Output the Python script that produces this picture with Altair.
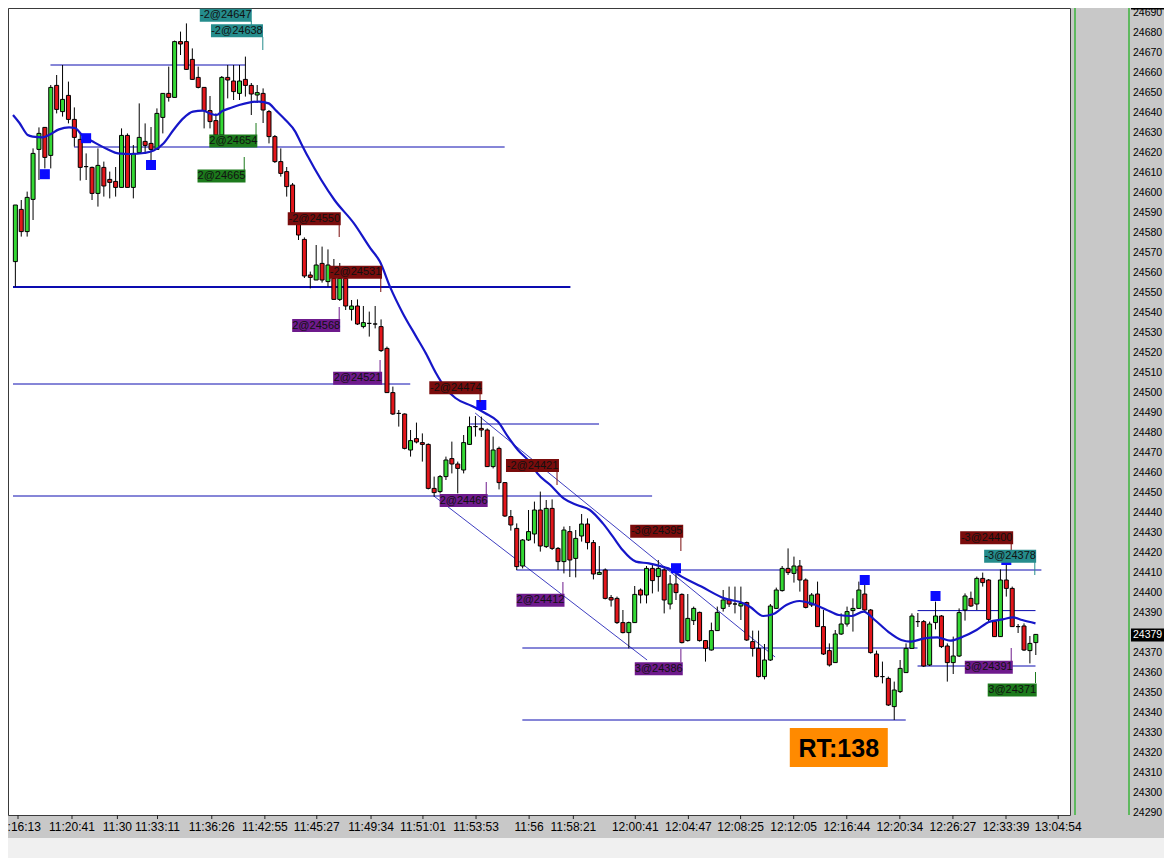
import altair as alt
import pandas as pd

FONT = "Liberation Sans"

# ---------------- candle data (bar index 0..173) ----------------
opens = [
    24565.7, 24591.8, 24580.7, 24596.8, 24621.8, 24632.8, 24618.8, 24653.8, 24640.7, 24648.8,
    24636.8, 24626.8, 24613.2, 24612.8, 24599.8, 24612.8, 24606.8, 24605.8, 24602.8, 24628.8,
    24602.8, 24620.2, 24625.8, 24624.8, 24621.8, 24637.8, 24649.8, 24647.8, 24675.7, 24675.7,
    24666.8, 24657.8, 24652.8, 24641.2, 24636.2, 24629.0, 24657.8, 24656.0, 24649.8, 24656.8,
    24653.8, 24649.0, 24649.8, 24640.7, 24628.2, 24615.7, 24610.7, 24604.0, 24589.8, 24576.8,
    24559.0, 24556.5, 24564.8, 24555.7, 24557.3, 24546.8, 24557.3, 24541.8, 24543.5, 24533.2,
    24534.8, 24534.5, 24533.2, 24522.3, 24500.2, 24489.8, 24489.5, 24471.5, 24477.2, 24475.2,
    24474.3, 24452.3, 24450.7, 24458.2, 24467.2, 24464.5, 24461.5, 24474.3, 24483.2, 24482.3,
    24481.5, 24463.2, 24472.3, 24455.2, 24438.2, 24432.3, 24413.5, 24426.5, 24429.5, 24441.5,
    24423.2, 24442.3, 24422.3, 24415.7, 24430.7, 24417.3, 24428.5, 24434.5, 24425.2, 24409.3,
    24411.5, 24397.7, 24397.3, 24385.2, 24380.2, 24385.2, 24401.5, 24399.0, 24412.3, 24408.2,
    24411.5, 24394.5, 24404.5, 24399.3, 24376.2, 24386.2, 24390.3, 24376.2, 24371.5, 24381.2,
    24392.3, 24396.5, 24394.5, 24393.5, 24395.2, 24375.7, 24372.3, 24358.2, 24366.5, 24392.3,
    24401.2, 24412.3, 24409.8, 24413.5, 24406.5, 24394.0, 24399.5, 24383.2, 24371.2, 24365.2,
    24379.5, 24384.5, 24391.2, 24392.3, 24399.5, 24391.5, 24369.5, 24358.2, 24357.3, 24343.2,
    24350.7, 24360.2, 24372.3, 24385.7, 24385.7, 24364.0, 24385.2, 24388.5, 24373.5, 24365.2,
    24368.5, 24391.5, 24397.3, 24394.5, 24407.3, 24406.5, 24385.7, 24378.2, 24406.5, 24402.3,
    24383.2, 24383.5, 24371.2, 24375.2,
]
highs = [
    24594.0, 24596.5, 24600.7, 24622.3, 24632.8, 24633.0, 24654.0, 24659.0, 24664.0, 24655.7,
    24642.8, 24629.8, 24619.8, 24613.2, 24622.3, 24615.7, 24610.7, 24613.0, 24632.3, 24629.8,
    24624.0, 24644.8, 24634.8, 24633.0, 24642.3, 24650.0, 24663.2, 24676.2, 24680.7, 24684.8,
    24672.3, 24663.2, 24653.0, 24648.5, 24639.8, 24658.5, 24664.0, 24664.0, 24664.0, 24668.2,
    24655.0, 24654.0, 24652.3, 24641.5, 24629.0, 24622.3, 24613.0, 24605.0, 24590.0, 24577.8,
    24560.7, 24574.0, 24573.2, 24571.8, 24567.0, 24565.0, 24558.0, 24546.5, 24546.8, 24543.5,
    24540.7, 24543.5, 24536.8, 24523.2, 24503.2, 24491.5, 24489.8, 24481.5, 24485.2, 24479.8,
    24474.8, 24458.2, 24459.0, 24468.2, 24475.7, 24465.7, 24479.0, 24488.2, 24488.5, 24488.2,
    24482.3, 24478.2, 24473.2, 24455.5, 24441.5, 24434.8, 24427.0, 24441.5, 24445.7, 24450.7,
    24446.5, 24446.8, 24423.0, 24433.2, 24433.5, 24431.5, 24439.5, 24437.3, 24426.5, 24423.5,
    24412.3, 24399.0, 24398.2, 24391.5, 24385.7, 24403.5, 24402.3, 24413.5, 24414.8, 24416.5,
    24413.5, 24409.0, 24409.8, 24399.8, 24399.5, 24393.2, 24390.7, 24376.5, 24385.2, 24393.2,
    24401.5, 24403.2, 24403.2, 24403.2, 24395.7, 24381.2, 24381.2, 24374.5, 24394.5, 24402.7,
    24413.5, 24422.3, 24418.2, 24416.5, 24407.3, 24400.0, 24405.7, 24391.5, 24374.8, 24381.5,
    24389.8, 24393.2, 24397.3, 24405.7, 24404.0, 24392.0, 24371.2, 24365.7, 24358.2, 24355.7,
    24366.5, 24374.8, 24389.8, 24390.0, 24386.5, 24385.7, 24395.7, 24389.0, 24374.8, 24378.2,
    24392.3, 24399.8, 24400.7, 24408.2, 24410.2, 24407.0, 24386.5, 24411.8, 24414.8, 24403.2,
    24384.5, 24384.8, 24378.5, 24379.5,
]
lows = [
    24553.2, 24578.2, 24578.2, 24586.5, 24606.5, 24612.3, 24612.3, 24639.8, 24638.2, 24634.8,
    24623.2, 24606.2, 24606.5, 24596.5, 24593.2, 24598.2, 24597.3, 24598.2, 24602.8, 24602.8,
    24597.3, 24620.2, 24620.2, 24616.5, 24621.8, 24629.8, 24645.7, 24647.8, 24669.0, 24661.5,
    24656.5, 24652.3, 24632.3, 24632.3, 24627.3, 24623.0, 24647.3, 24646.5, 24646.5, 24648.2,
    24639.0, 24645.0, 24635.0, 24624.8, 24615.0, 24608.2, 24598.2, 24589.0, 24576.5, 24557.5,
    24552.3, 24556.5, 24555.2, 24553.2, 24546.8, 24546.0, 24541.5, 24536.2, 24534.0, 24532.3,
    24528.2, 24532.3, 24520.5, 24500.0, 24489.0, 24483.2, 24471.8, 24468.2, 24474.8, 24465.7,
    24451.8, 24448.2, 24449.8, 24456.5, 24459.8, 24449.8, 24459.8, 24474.0, 24478.2, 24478.0,
    24463.0, 24462.3, 24451.8, 24438.0, 24431.2, 24411.5, 24412.3, 24426.0, 24424.8, 24420.7,
    24422.5, 24421.5, 24411.5, 24409.8, 24408.0, 24407.8, 24425.7, 24421.8, 24406.8, 24409.0,
    24396.8, 24393.2, 24384.5, 24379.8, 24372.3, 24385.0, 24394.8, 24394.8, 24399.8, 24400.7,
    24389.8, 24391.8, 24396.5, 24374.8, 24375.7, 24384.0, 24375.7, 24365.7, 24371.2, 24381.0,
    24390.7, 24393.0, 24389.8, 24386.5, 24376.0, 24368.2, 24357.8, 24356.8, 24366.0, 24392.0,
    24400.7, 24409.0, 24405.2, 24400.7, 24392.3, 24393.0, 24383.0, 24369.0, 24363.2, 24365.0,
    24379.0, 24383.2, 24380.7, 24392.0, 24391.0, 24369.7, 24357.8, 24354.8, 24343.5, 24336.5,
    24350.0, 24360.0, 24372.0, 24383.0, 24363.0, 24363.5, 24381.8, 24372.5, 24355.7, 24359.5,
    24368.0, 24386.2, 24393.0, 24391.5, 24403.2, 24386.0, 24378.0, 24378.0, 24398.2, 24383.0,
    24380.0, 24371.0, 24364.8, 24369.0,
]
closes = [
    24594.0, 24580.7, 24597.8, 24619.8, 24629.8, 24617.8, 24652.8, 24641.8, 24646.8, 24636.8,
    24627.8, 24612.8, 24613.2, 24599.8, 24613.8, 24603.5, 24605.3, 24602.8, 24628.8, 24602.8,
    24619.8, 24627.8, 24623.8, 24621.8, 24639.8, 24649.8, 24647.8, 24675.7, 24674.5, 24661.8,
    24656.8, 24652.8, 24641.2, 24635.7, 24629.0, 24657.8, 24656.5, 24650.7, 24656.0, 24653.8,
    24649.5, 24650.2, 24641.5, 24628.2, 24615.7, 24609.8, 24603.2, 24590.0, 24579.0, 24558.5,
    24557.8, 24564.0, 24556.5, 24564.0, 24546.8, 24557.3, 24543.5, 24543.5, 24534.5, 24535.2,
    24534.8, 24534.5, 24521.2, 24500.2, 24489.5, 24489.8, 24472.3, 24476.2, 24475.5, 24474.3,
    24452.3, 24450.2, 24458.2, 24466.5, 24464.5, 24462.3, 24475.2, 24483.2, 24483.2, 24481.5,
    24463.2, 24471.5, 24455.2, 24438.5, 24434.0, 24413.2, 24426.5, 24430.7, 24441.5, 24423.5,
    24442.3, 24422.3, 24415.7, 24431.5, 24416.5, 24427.3, 24434.5, 24425.2, 24409.5, 24410.3,
    24397.3, 24396.5, 24385.2, 24380.2, 24385.2, 24399.3, 24399.0, 24412.3, 24406.2, 24412.3,
    24396.5, 24404.5, 24400.2, 24375.2, 24387.3, 24392.3, 24376.2, 24372.3, 24381.2, 24390.3,
    24396.5, 24394.5, 24394.5, 24394.8, 24376.5, 24372.3, 24358.2, 24366.5, 24393.5, 24401.5,
    24412.3, 24410.2, 24413.5, 24406.5, 24392.8, 24399.0, 24383.2, 24369.5, 24364.0, 24379.5,
    24384.5, 24390.7, 24392.3, 24401.5, 24391.5, 24370.2, 24358.2, 24358.2, 24344.0, 24351.5,
    24362.3, 24372.3, 24388.5, 24385.7, 24363.5, 24384.5, 24388.5, 24373.2, 24365.2, 24368.5,
    24390.2, 24398.5, 24393.5, 24407.3, 24405.2, 24386.8, 24378.2, 24406.5, 24402.3, 24383.2,
    24383.2, 24371.5, 24374.8, 24379.3,
]

# ---------------- moving average ----------------
ma_bar = [-0.4, 0.7, 2.1, 2.95, 4.6, 5.7, 7.4, 9.1, 10.1, 11.3, 13.45, 15.7, 17.4, 19.6, 21.8,
          23.45, 25.1, 26.8, 28.45, 30.1, 31.8, 32.95, 34.1, 35.1, 36.3, 37.95, 39.6, 41.3, 42.95,
          44.1, 45.8, 47.45, 48.45, 49.6, 54.1, 57.4, 60.2, 61.8, 63.5, 65.7, 67.95, 69.6, 71.3,
          72.95, 74.6, 77.4, 79.6, 81.8, 83.5, 85.2, 87.4, 88.5, 90.7, 92.95, 95.2, 97.4, 99.6,
          101.3, 102.95, 105.2, 107.4, 109.6, 110.7, 112.95, 116.3, 120.2, 123.5, 124.6, 126.8,
          128.5, 130.7, 132.95, 135.2, 137.4, 139.6, 141.8, 143.8, 145.7, 147.95, 150.2, 151.8,
          154.1, 156.3, 158.5, 160.7, 162.95, 165.2, 167.4, 169.1, 170.7, 172.95]
ma_val = [24639, 24635, 24629, 24628.2, 24627.8, 24629, 24631.8, 24632.8, 24632.5, 24629, 24625.2,
          24621.8, 24619.8, 24619.5, 24620, 24621.2, 24624.8, 24631.5, 24637.3, 24640.7, 24641.2,
          24639.8, 24639, 24641, 24642.3, 24644, 24645.2, 24645.7, 24644.8, 24641.5, 24636.5,
          24630.7, 24624.8, 24618.2, 24596.5, 24584.8, 24572.3, 24565.7, 24553.2, 24539.8, 24528.2,
          24519.8, 24510, 24502.3, 24497.5, 24493.5, 24490, 24485.7, 24478.2, 24471.5, 24464.8,
          24459.8, 24454, 24447.3, 24444, 24441.5, 24434.8, 24428.2, 24421.5, 24415.7, 24414.8,
          24413.2, 24412.3, 24408.2, 24403.2, 24397.3, 24394.8, 24393, 24388.5, 24389.5, 24394,
          24396, 24394.5, 24391.8, 24389, 24388.5, 24390.7, 24386.5, 24380.7, 24376.5, 24375.7,
          24377.3, 24377.8, 24376.2, 24378.2, 24381.5, 24385.7, 24386.8, 24387.8, 24386.5, 24384.8]

# ---------------- horizontal levels ----------------
hl_price = [24664, 24623, 24553, 24504.5, 24484.5, 24448.5, 24411.5, 24372.5, 24336.5, 24391.2, 24363.5]
hl_start = [5.95, 9.95, -0.4, -0.4, 77.1, -0.4, 84.95, 85.95, 85.95, 152.95, 152.95]
hl_end = [38.95, 82.95, 94.1, 66.95, 98.95, 107.95, 173.95, 152.95, 150.95, 172.95, 172.95]
hl_width = [1, 1, 2, 1, 1, 1, 1, 1, 1, 1, 1]

# ---------------- diagonal channel lines ----------------
dg_bar1 = [70.95, 77.95]
dg_p1 = [24448.5, 24490]
dg_bar2 = [107.1, 128.8]
dg_p2 = [24366.5, 24368]

# ---------------- signal squares ----------------
sq_bar = [5, 12, 23, 79, 112, 144, 156, 168]
sq_price = [24609.4, 24627.4, 24614, 24494, 24412.4, 24406.5, 24398.5, 24416.5]

# ---------------- execution labels ----------------
lab_text = ["-2@24647", "-2@24638", "2@24654", "2@24665", "-2@24550", "-2@24531", "2@24568",
            "2@24521", "-2@24474", "2@24466", "-2@24421", "2@24412", "-3@24395", "3@24386",
            "-3@24400", "-3@24378", "3@24391", "3@24371"]
lab_kind = ["teal", "teal", "green", "green", "red", "red", "purple", "purple", "red", "purple",
            "red", "purple", "red", "purple", "red", "teal", "purple", "green"]
lab_bar = [35.67, 37.57, 36.95, 34.95, 50.67, 57.67, 51.0, 58.03, 74.67, 76.0, 87.67, 89.03,
           108.73, 109.08, 164.67, 168.65, 165.03, 169.0]
lab_price = [24688.9, 24681.1, 24626, 24608.5, 24587.1, 24560.4, 24533.75, 24507.35, 24502.6,
             24446.25, 24463.75, 24396.35, 24430.9, 24362.15, 24427.6, 24418.4, 24362.9, 24351.5]
lab_width = [52, 52, 48, 48, 53, 53, 48, 49, 53, 48, 53, 48, 53, 48, 53, 52, 48, 49]
con_bar = [40.0, 41.95, 40.8, 38.8, 54.9, 61.95, 54.9, 61.83, 78.78, 79.83, 91.83, 92.83,
           112.83, 112.83, 168.83, 172.83, 168.83, 172.95]
con_p1 = [24686, 24678, 24635, 24618, 24584, 24557.5, 24543, 24516.5, 24499.5, 24455.5, 24460.5,
          24405.5, 24428, 24372, 24424.5, 24415.5, 24372.5, 24360.5]
con_p2 = [24683, 24671.5, 24629, 24611.5, 24578, 24550.5, 24537, 24510.5, 24495.5, 24449.5, 24454,
          24399.5, 24421, 24365.5, 24418, 24409, 24366, 24355]
KIND_COLORS = {"teal": "#258c8c", "green": "#1c7a1c", "red": "#7a0c0c", "purple": "#6e1a8c"}

# ---------------- axis ticks ----------------
tick_bars = [0.45, 9.6, 17.3, 24.1, 33.3, 42.3, 51.1, 60.3, 69.1, 78.1, 87.1, 94.6, 105.1, 114.1,
             122.95, 131.95, 140.95, 149.95, 158.95, 167.95, 176.8]
tick_labels = ["11:16:13", "11:20:41", "11:30", "11:33:11", "11:36:26", "11:42:55", "11:45:27",
               "11:49:34", "11:51:01", "11:53:53", "11:56", "11:58:21", "12:00:41", "12:04:47",
               "12:08:25", "12:12:05", "12:16:44", "12:20:34", "12:26:27", "12:33:39", "13:04:54"]
price_ticks = [p for p in range(24290, 24700, 10) if p != 24380]
marker_prices = [24695, 24379]

rt_text = ["RT:138"]
rt_bar = [139.6]
rt_price = [24322.75]

# ---------------- layout ----------------
PLOT_W, PLOT_H = 1062, 807
RIGHT_PAD, BOTTOM_PAD = 94, 43
XDOM = [-0.4, 177.95]
YDOM = [24289, 24692.5]
GREEN = "#34d934"
RED = "#e3161b"
LEVEL = "#0c0cb0"
PANEL_GREEN = "#3cb43c"
LABEL_X = PLOT_W + 63   # left edge of the price labels

xs = alt.Scale(domain=XDOM, nice=False, zero=False)
ys = alt.Scale(domain=YDOM, nice=False, zero=False)


def box_shape(w, h):
    r = h / w
    return f"M-1,-{r:.4f}L1,-{r:.4f}L1,{r:.4f}L-1,{r:.4f}Z"


def X(field):
    return alt.X(field, scale=xs, axis=None)


def Y(field):
    return alt.Y(field, scale=ys, axis=None)


n = min(len(opens), len(highs), len(lows), len(closes))
candles = pd.DataFrame({
    "bar": list(range(n)), "open": opens[:n], "high": highs[:n],
    "low": lows[:n], "close": closes[:n],
})
candles["dir"] = ["up" if c > o else ("down" if c < o else "flat")
                  for o, c in zip(candles["open"], candles["close"])]

base = alt.Chart(candles)
wicks = base.mark_rule(color="black", strokeWidth=1).encode(
    x=X("bar:Q"), y=Y("low:Q"), y2="high:Q",
)
bodies = base.mark_bar(width=4, stroke="black", strokeWidth=1).encode(
    x=X("bar:Q"), y=Y("open:Q"), y2="close:Q",
    color=alt.Color("dir:N", scale=alt.Scale(domain=["up", "down", "flat"],
                                             range=[GREEN, RED, "black"]), legend=None),
)

levels_df = pd.DataFrame({"price": hl_price, "b1": hl_start, "b2": hl_end, "w": hl_width})
levels = alt.Chart(levels_df).mark_rule(color=LEVEL).encode(
    x=X("b1:Q"), x2="b2:Q", y=Y("price:Q"),
    strokeWidth=alt.StrokeWidth("w:Q", scale=None),
)

diag_df = pd.DataFrame({"b1": dg_bar1, "p1": dg_p1, "b2": dg_bar2, "p2": dg_p2})
diags = alt.Chart(diag_df).mark_rule(color=LEVEL, strokeWidth=0.8).encode(
    x=X("b1:Q"), x2="b2:Q", y=Y("p1:Q"), y2="p2:Q",
)

ma_df = pd.DataFrame({"bar": ma_bar, "ma": ma_val})
ma = alt.Chart(ma_df).mark_line(color="#1616c8", strokeWidth=2.2, interpolate="monotone").encode(
    x=X("bar:Q"), y=Y("ma:Q"),
)

sq_df = pd.DataFrame({"bar": sq_bar, "price": sq_price})
squares = alt.Chart(sq_df).mark_square(size=100, color="#0a0aff", opacity=1, filled=True).encode(
    x=X("bar:Q"), y=Y("price:Q"),
)

lab_df = pd.DataFrame({
    "text": lab_text, "bar": lab_bar, "price": lab_price,
    "col": [KIND_COLORS[k] for k in lab_kind],
    "shape": [box_shape(w, 13) for w in lab_width],
    "size": [w * w for w in lab_width],
})
con_df = pd.DataFrame({"bar": con_bar, "p1": con_p1, "p2": con_p2,
                       "col": [KIND_COLORS[k] for k in lab_kind]})
connectors = alt.Chart(con_df).mark_rule(strokeWidth=1).encode(
    x=X("bar:Q"), y=Y("p1:Q"), y2="p2:Q",
    color=alt.Color("col:N", scale=None),
)
boxes = alt.Chart(lab_df).mark_point(filled=True, opacity=1, strokeWidth=0).encode(
    x=X("bar:Q"), y=Y("price:Q"),
    shape=alt.Shape("shape:N", scale=None),
    size=alt.Size("size:Q", scale=None),
    color=alt.Color("col:N", scale=None),
)
texts = alt.Chart(lab_df).mark_text(font=FONT, fontSize=11, color="#111111", align="center",
                                    baseline="middle").encode(
    x=X("bar:Q"), y=Y("price:Q"), text="text:N",
)

rt_df = pd.DataFrame({"text": rt_text, "bar": rt_bar, "price": rt_price,
                      "shape": [box_shape(98, 39)], "size": [98 * 98]})
rt_box = alt.Chart(rt_df).mark_point(filled=True, opacity=1, strokeWidth=0, color="#ff8a00").encode(
    x=X("bar:Q"), y=Y("price:Q"),
    shape=alt.Shape("shape:N", scale=None),
    size=alt.Size("size:Q", scale=None),
)
rt_txt = alt.Chart(rt_df).mark_text(font=FONT, fontSize=25, fontWeight="bold", color="#000000",
                                    align="center", baseline="middle", dy=1).encode(
    x=X("bar:Q"), y=Y("price:Q"), text="text:N",
)

# ---------------- frame pieces: bottom strip, green separators ----------------
one = pd.DataFrame({"k": [0]})
bottom_strip = alt.Chart(one).mark_rect(color="#f0f0f0").encode(
    x=alt.value(-2), x2=alt.value(PLOT_W + RIGHT_PAD + 2),
    y=alt.value(PLOT_H + 23), y2=alt.value(PLOT_H + BOTTOM_PAD + 2),
)
sep_df = pd.DataFrame({"px": [PLOT_W + 5, PLOT_W + 59]})
separators = alt.Chart(sep_df).mark_rule(color=PANEL_GREEN, strokeWidth=1.5).encode(
    x=alt.X("px:Q", scale=None, axis=None), y=alt.value(0), y2=alt.value(PLOT_H),
)

# ---------------- time axis (ticks + labels through the x scale) ----------------
xt_df = pd.DataFrame({"bar": tick_bars, "label": tick_labels})
x_ticks = alt.Chart(xt_df).mark_rule(color="#222222", strokeWidth=1).encode(
    x=X("bar:Q"), y=alt.value(PLOT_H), y2=alt.value(PLOT_H + 4),
)
x_labels = alt.Chart(xt_df).mark_text(font=FONT, fontSize=12, color="#000000", align="center",
                                      baseline="middle").encode(
    x=X("bar:Q"), y=alt.value(PLOT_H + 12), text="label:N",
)

# ---------------- price axis (labels through the y scale) ----------------
yt_df = pd.DataFrame({"price": price_ticks, "label": [str(p) for p in price_ticks]})
y_labels = alt.Chart(yt_df).mark_text(font=FONT, fontSize=10.5, color="#000000", align="left",
                                      baseline="middle").encode(
    x=alt.value(LABEL_X), y=Y("price:Q"), text="label:N",
)

mk_df = pd.DataFrame({"price": marker_prices, "label": [str(p) for p in marker_prices],
                      "shape": [box_shape(34, 13)] * 2, "size": [34 * 34] * 2})
mk_box = alt.Chart(mk_df).mark_point(filled=True, opacity=1, strokeWidth=0, color="#000000").encode(
    x=alt.value(LABEL_X + 15),
    y=Y("price:Q"),
    shape=alt.Shape("shape:N", scale=None),
    size=alt.Size("size:Q", scale=None),
)
mk_txt = alt.Chart(mk_df).mark_text(font=FONT, fontSize=10.5, color="#ffffff", align="left",
                                    baseline="middle").encode(
    x=alt.value(LABEL_X), y=Y("price:Q"), text="label:N",
)

chart = alt.layer(
    bottom_strip, levels, diags, wicks, bodies, ma, squares, connectors, boxes, texts,
    rt_box, rt_txt, separators, x_ticks, x_labels, y_labels, mk_box, mk_txt,
).properties(
    width=PLOT_W, height=PLOT_H,
    autosize=alt.AutoSizeParams(type="none"),
    padding={"left": 0, "top": 0, "right": RIGHT_PAD, "bottom": BOTTOM_PAD},
    background="#c8c8c8",
).configure_view(
    fill="white", stroke="#3a3a3a", strokeWidth=1,
)

chart.save("out.html", embed_options={"renderer": "svg", "actions": False})
